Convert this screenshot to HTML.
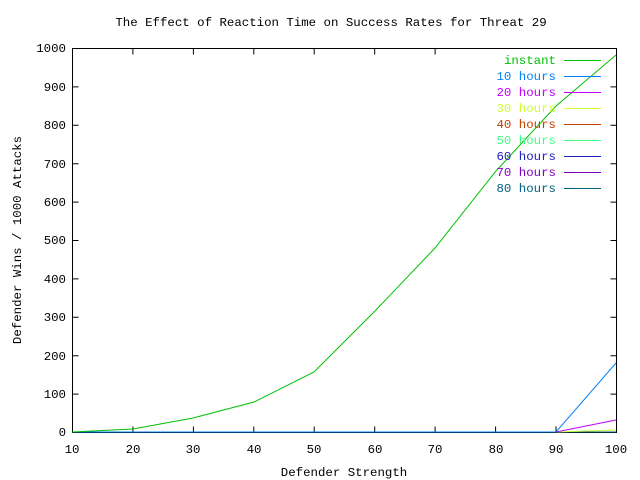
<!DOCTYPE html><html><head><style>body{margin:0;background:#fff}svg{display:block}text{font-family:"Liberation Mono","DejaVu Sans Mono",monospace;font-size:12.4px}</style></head><body>
<svg width="640" height="480" xmlns="http://www.w3.org/2000/svg">
<rect width="640" height="480" fill="#fff"/>
<text x="331" y="26" text-anchor="middle">The Effect of Reaction Time on Success Rates for Threat 29</text>
<g stroke="#000" stroke-width="1" fill="none">
<rect x="72.5" y="48.5" width="544" height="384"/>
<path d="M72.5 48.5h6M72.5 86.9h6M72.5 125.3h6M72.5 163.7h6M72.5 202.1h6M72.5 240.5h6M72.5 278.9h6M72.5 317.3h6M72.5 355.7h6M72.5 394.1h6
M616.5 86.9h-6M616.5 125.3h-6M616.5 163.7h-6M616.5 202.1h-6M616.5 240.5h-6M616.5 278.9h-6M616.5 317.3h-6M616.5 355.7h-6M616.5 394.1h-6
M132.9 432.5v-6M193.4 432.5v-6M253.8 432.5v-6M314.2 432.5v-6M374.7 432.5v-6M435.1 432.5v-6M495.6 432.5v-6M556 432.5v-6
M132.9 48.5v6M193.4 48.5v6M253.8 48.5v6M314.2 48.5v6M374.7 48.5v6M435.1 48.5v6"/>
</g>
<g text-anchor="end">
<text x="66" y="52">1000</text><text x="66" y="91">900</text><text x="66" y="129">800</text><text x="66" y="168">700</text><text x="66" y="206">600</text><text x="66" y="244">500</text><text x="66" y="283">400</text><text x="66" y="321">300</text><text x="66" y="360">200</text><text x="66" y="398">100</text><text x="66" y="436">0</text>
</g>
<g text-anchor="middle">
<text x="72" y="453">10</text><text x="133" y="453">20</text><text x="193" y="453">30</text><text x="254" y="453">40</text><text x="314" y="453">50</text><text x="375" y="453">60</text><text x="435" y="453">70</text><text x="496" y="453">80</text><text x="556" y="453">90</text><text x="616" y="453">100</text>
<text x="344" y="476">Defender Strength</text>
<text transform="translate(21 240) rotate(-90)">Defender Wins / 1000 Attacks</text>
</g>
<g fill="none" stroke-width="1">
<polyline stroke="#006080" points="72,432 616,432"/>
<polyline stroke="#ccff33" points="72,432 556,432 616,430"/>
<polyline stroke="#c000ff" points="72,432 556,432 616,420"/>
<polyline stroke="#0080ff" points="72,432 556,432 616,363"/>
<polyline stroke="#00c000" points="72,432 133,429 193,418 254,402 314,372 375,311 435,248 496,171 556,106 616,55"/>
</g>
<g text-anchor="end">
<text x="556" y="64" fill="#00c000">instant</text>
<text x="556" y="80" fill="#0080ff">10 hours</text>
<text x="556" y="96" fill="#c000ff">20 hours</text>
<text x="556" y="112" fill="#ccff33">30 hours</text>
<text x="556" y="128" fill="#c04000">40 hours</text>
<text x="556" y="144" fill="#40ff80">50 hours</text>
<text x="556" y="160" fill="#2020c0">60 hours</text>
<text x="556" y="176" fill="#8000c0">70 hours</text>
<text x="556" y="192" fill="#006080">80 hours</text>
</g>
<g stroke-width="1">
<line x1="564" x2="601" y1="60.5" y2="60.5" stroke="#00c000"/>
<line x1="564" x2="601" y1="76.5" y2="76.5" stroke="#0080ff"/>
<line x1="564" x2="601" y1="92.5" y2="92.5" stroke="#c000ff"/>
<line x1="564" x2="601" y1="108.5" y2="108.5" stroke="#ccff33"/>
<line x1="564" x2="601" y1="124.5" y2="124.5" stroke="#c04000"/>
<line x1="564" x2="601" y1="140.5" y2="140.5" stroke="#40ff80"/>
<line x1="564" x2="601" y1="156.5" y2="156.5" stroke="#2020c0"/>
<line x1="564" x2="601" y1="172.5" y2="172.5" stroke="#8000c0"/>
<line x1="564" x2="601" y1="188.5" y2="188.5" stroke="#006080"/>
</g>
</svg></body></html>
